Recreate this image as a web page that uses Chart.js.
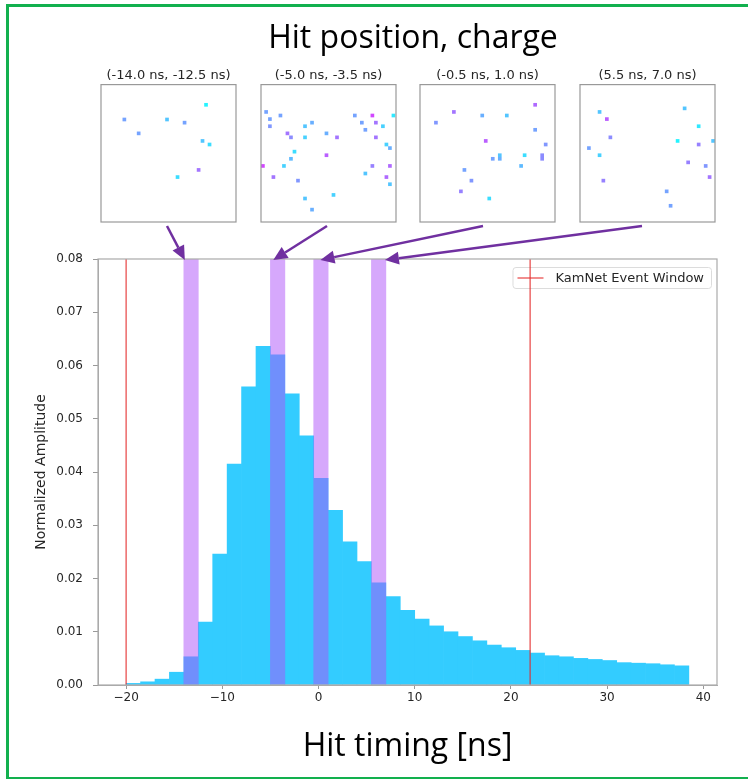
<!DOCTYPE html>
<html>
<head>
<meta charset="utf-8">
<script src="https://cdn.jsdelivr.net/npm/chart.js@4.4.1/dist/chart.umd.min.js"></script>
<style>
  html, body { margin: 0; padding: 0; background: #fff; }
  #page { position: relative; width: 748px; height: 779px; overflow: hidden; }
  #mainCanvas { position: absolute; left: 0; top: 0; }
  .inset { position: absolute; top: 67px; width: 143px; height: 159px; }
  #frame { position: absolute; left: 6px; top: 4px; width: 745px; height: 776px; border: 3px solid #12b04e; box-sizing: border-box; pointer-events: none; }
  #title { position: absolute; left: 0; top: 20px; width: 826px; text-align: center; font: 32px 'Open Sans'; line-height: 32px; color: #000; }
</style>
</head>
<body>
<div id="page">
  <canvas id="mainCanvas" width="748" height="779"></canvas>
  <div id="title">Hit position, charge</div>
  <div class="inset" style="left:97px"><canvas id="inset0" width="143" height="159"></canvas></div>
  <div class="inset" style="left:257px"><canvas id="inset1" width="143" height="159"></canvas></div>
  <div class="inset" style="left:416px"><canvas id="inset2" width="143" height="159"></canvas></div>
  <div class="inset" style="left:576px"><canvas id="inset3" width="143" height="159"></canvas></div>
  <div id="frame"></div>
</div>
<script>
// histogram of hit times, 1.5 ns bins starting at -20 ns
const binStart = -20;
const binWidth = 1.5;
const amplitude = [
  0.0003, 0.0006, 0.0011, 0.0024, 0.0053, 0.0118, 0.0246, 0.0415, 0.0560, 0.0636,
  0.0620, 0.0547, 0.0468, 0.0388, 0.0328, 0.0269, 0.0232, 0.0192, 0.0166, 0.0140,
  0.0124, 0.0111, 0.0100, 0.0091, 0.0083, 0.0075, 0.0070, 0.0065, 0.0060, 0.0055,
  0.0053, 0.0050, 0.0048, 0.0046, 0.0042, 0.0041, 0.0040, 0.0038, 0.0036
];
const yMax = 0.08;
const eventWindow = [-20, 22];
const slices = [[-14.0, -12.5], [-5.0, -3.5], [-0.5, 1.0], [5.5, 7.0]];
const sliceTitles = ['(-14.0 ns, -12.5 ns)', '(-5.0 ns, -3.5 ns)', '(-0.5 ns, 1.0 ns)', '(5.5 ns, 7.0 ns)'];
// where each arrow lands on the time axis
const arrowTargets = [-13.9, -4.7, 0.2, 6.9];

// hits per slice: [x, y, charge] in panel units
const hitsA = [
  [0.173, 0.746, 0.40], [0.279, 0.645, 0.40], [0.489, 0.746, 0.25], [0.619, 0.723, 0.40],
  [0.778, 0.853, 0.05], [0.752, 0.590, 0.25], [0.804, 0.564, 0.15], [0.567, 0.327, 0.15],
  [0.723, 0.379, 0.60]
];
const hitsB = [
  [0.038, 0.801, 0.40], [0.066, 0.749, 0.40], [0.066, 0.697, 0.45], [0.144, 0.775, 0.40],
  [0.196, 0.645, 0.60], [0.222, 0.616, 0.50], [0.326, 0.697, 0.25], [0.326, 0.616, 0.20],
  [0.378, 0.723, 0.35], [0.248, 0.512, 0.15], [0.222, 0.460, 0.30], [0.170, 0.408, 0.20],
  [0.014, 0.408, 0.80], [0.092, 0.327, 0.60], [0.274, 0.301, 0.45], [0.326, 0.171, 0.25],
  [0.378, 0.090, 0.35], [0.485, 0.645, 0.35], [0.563, 0.616, 0.60], [0.485, 0.486, 0.70],
  [0.537, 0.197, 0.20], [0.695, 0.775, 0.40], [0.747, 0.723, 0.40], [0.825, 0.775, 0.80],
  [0.851, 0.723, 0.60], [0.903, 0.697, 0.20], [0.773, 0.671, 0.40], [0.851, 0.616, 0.60],
  [0.981, 0.775, 0.10], [0.929, 0.564, 0.20], [0.955, 0.538, 0.35], [0.825, 0.408, 0.55],
  [0.955, 0.408, 0.65], [0.773, 0.353, 0.25], [0.929, 0.327, 0.65], [0.955, 0.275, 0.25]
];
const hitsC = [
  [0.118, 0.723, 0.45], [0.251, 0.801, 0.60], [0.461, 0.775, 0.35], [0.643, 0.775, 0.25],
  [0.853, 0.853, 0.65], [0.853, 0.671, 0.40], [0.487, 0.590, 0.70], [0.931, 0.564, 0.45],
  [0.539, 0.460, 0.40], [0.591, 0.486, 0.25], [0.591, 0.460, 0.35], [0.775, 0.486, 0.15],
  [0.749, 0.408, 0.30], [0.905, 0.486, 0.50], [0.905, 0.460, 0.50], [0.329, 0.379, 0.40],
  [0.381, 0.301, 0.45], [0.303, 0.223, 0.55], [0.513, 0.171, 0.15]
];
const hitsD = [
  [0.145, 0.801, 0.25], [0.199, 0.749, 0.70], [0.225, 0.616, 0.50], [0.066, 0.538, 0.40],
  [0.145, 0.486, 0.20], [0.173, 0.301, 0.55], [0.775, 0.827, 0.25], [0.879, 0.697, 0.10],
  [0.723, 0.590, 0.05], [0.879, 0.564, 0.55], [0.986, 0.590, 0.25], [0.801, 0.434, 0.55],
  [0.931, 0.408, 0.45], [0.960, 0.327, 0.60], [0.642, 0.223, 0.40], [0.671, 0.118, 0.40]
];
const sliceHits = [hitsA, hitsB, hitsC, hitsD];

Chart.defaults.font.family = 'DejaVu Sans';
Chart.defaults.color = '#262626';

const windowRed = 'rgba(228, 40, 40, 0.7)';
const bandPurple = 'rgba(173, 81, 249, 0.5)';
const histBlue = '#33ccff';
const arrowPurple = '#7030a0';

// matplotlib-like box around the plot area
const boxFrame = {
  id: 'boxFrame',
  afterDatasetsDraw(chart, args, opts) {
    const { ctx, chartArea: a } = chart;
    ctx.save();
    ctx.strokeStyle = opts.color || '#aaa';
    ctx.lineWidth = opts.width || 1.2;
    ctx.strokeRect(a.left, a.top, a.right - a.left, a.bottom - a.top);
    ctx.restore();
  }
};

// legend in the upper right corner, drawn under the datasets like matplotlib's
const cornerLegend = {
  id: 'cornerLegend',
  beforeDatasetsDraw(chart) {
    const { ctx, chartArea: a } = chart;
    const ds = chart.data.datasets[0];
    ctx.save();
    ctx.font = '13px "DejaVu Sans"';
    const tw = ctx.measureText(ds.label).width;
    const w = tw + 50, h = 21;
    const x = a.right - 6 - w, y = a.top + 8;
    ctx.beginPath();
    ctx.roundRect(x + 0.5, y + 0.5, w, h, 3);
    ctx.fillStyle = 'rgba(255,255,255,0.8)';
    ctx.fill();
    ctx.strokeStyle = '#dcdcdc';
    ctx.lineWidth = 1;
    ctx.stroke();
    ctx.strokeStyle = ds.borderColor;
    ctx.lineWidth = ds.borderWidth;
    ctx.beginPath();
    ctx.moveTo(x + 5, y + h / 2 + 0.5);
    ctx.lineTo(x + 31, y + h / 2 + 0.5);
    ctx.stroke();
    ctx.fillStyle = '#262626';
    ctx.textBaseline = 'middle';
    ctx.fillText(ds.label, x + 43, y + h / 2 + 1);
    ctx.restore();
  }
};

const arrowStarts = [[167, 226], [327, 226], [483, 226], [642, 226]];
const sliceArrows = {
  id: 'sliceArrows',
  afterDraw(chart) {
    const { ctx, chartArea, scales } = chart;
    ctx.save();
    ctx.strokeStyle = arrowPurple;
    ctx.fillStyle = arrowPurple;
    ctx.lineWidth = 2.5;
    arrowTargets.forEach((t, i) => {
      const [sx, sy] = arrowStarts[i];
      const tx = scales.x.getPixelForValue(t);
      const ty = chartArea.top + 1;
      const ang = Math.atan2(ty - sy, tx - sx);
      const head = 14, half = 6.5;
      const bx = tx - head * Math.cos(ang), by = ty - head * Math.sin(ang);
      ctx.beginPath();
      ctx.moveTo(sx, sy);
      ctx.lineTo(bx, by);
      ctx.stroke();
      ctx.beginPath();
      ctx.moveTo(tx, ty);
      ctx.lineTo(bx + half * Math.sin(ang), by - half * Math.cos(ang));
      ctx.lineTo(bx - half * Math.sin(ang), by + half * Math.cos(ang));
      ctx.closePath();
      ctx.fill();
    });
    ctx.restore();
  }
};

const minusSign = v => String(v).replace('-', '\u2212');

new Chart(document.getElementById('mainCanvas'), {
  type: 'bar',
  data: {
    datasets: [
      {
        type: 'line', label: 'KamNet Event Window',
        data: [{ x: eventWindow[0], y: 0 }, { x: eventWindow[0], y: yMax }],
        borderColor: windowRed, backgroundColor: windowRed, borderWidth: 1.5, pointRadius: 0, order: 0
      },
      {
        type: 'line', label: 'KamNet Event Window',
        data: [{ x: eventWindow[1], y: 0 }, { x: eventWindow[1], y: yMax }],
        borderColor: windowRed, backgroundColor: windowRed, borderWidth: 1.5, pointRadius: 0, order: 0
      },
      {
        label: 'slices',
        data: slices.map(s => ({ x: (s[0] + s[1]) / 2, y: [0, yMax] })),
        backgroundColor: bandPurple, order: 1
      },
      {
        label: 'hits',
        data: amplitude.map((v, i) => ({ x: binStart + binWidth * (i + 0.5), y: v })),
        backgroundColor: histBlue, order: 2
      }
    ]
  },
  options: {
    responsive: false,
    animation: false,
    devicePixelRatio: 1,
    layout: { padding: { top: 259, right: 31, left: 0, bottom: 0 } },
    datasets: { bar: { barPercentage: 1, categoryPercentage: 1, grouped: false, borderWidth: 0 } },
    plugins: {
      tooltip: { enabled: false },
      legend: { display: false },
      boxFrame: { color: '#aaa', width: 1.2 }
    },
    scales: {
      x: {
        type: 'linear', min: -22.925, max: 41.425, offset: false,
        grid: { offset: false, drawOnChartArea: false, drawTicks: true, tickLength: 4, color: '#999' },
        border: { color: '#aaa' },
        ticks: { stepSize: 10, includeBounds: false, font: { size: 12 }, padding: 2, maxRotation: 0, callback: minusSign },
        title: { display: true, text: 'Hit timing [ns]', font: { family: 'Open Sans', size: 32 }, color: '#000', padding: { top: 0, bottom: 13 } },
        afterFit: s => { s.height = 94; }
      },
      y: {
        min: 0, max: yMax,
        grid: { drawOnChartArea: false, drawTicks: true, tickLength: 5, color: '#999' },
        border: { color: '#aaa' },
        ticks: { stepSize: 0.01, font: { size: 12 }, padding: 10, callback: v => v.toFixed(2) },
        title: { display: true, text: 'Normalized Amplitude', font: { size: 14 }, padding: { top: 33, bottom: 0 } },
        afterFit: s => { s.width = 98; }
      }
    }
  },
  plugins: [cornerLegend, boxFrame, sliceArrows]
});

const coolMap = q => `rgba(${Math.round(255 * q)}, ${Math.round(255 * (1 - q))}, 255, 0.9)`;

sliceHits.forEach((hits, i) => {
  new Chart(document.getElementById('inset' + i), {
    type: 'scatter',
    data: {
      datasets: [{
        data: hits.map(h => ({ x: h[0], y: h[1] })),
        backgroundColor: hits.map(h => coolMap(h[2])),
        borderWidth: 0,
        pointStyle: 'rect',
        pointRadius: 2.6,
        clip: false
      }]
    },
    options: {
      responsive: false,
      animation: false,
      devicePixelRatio: 1,
      layout: { padding: { left: 1, right: 1, bottom: 1, top: 0 } },
      plugins: {
        legend: { display: false },
        tooltip: { enabled: false },
        title: { display: true, text: sliceTitles[i], font: { size: 13, weight: 'normal' }, color: '#262626', padding: { top: 1, bottom: 1 } },
        boxFrame: { color: '#999', width: 1.2 }
      },
      scales: {
        x: { display: false, min: 0, max: 1 },
        y: { display: false, min: 0, max: 1 }
      }
    },
    plugins: [boxFrame]
  });
});
</script>
</body>
</html>
